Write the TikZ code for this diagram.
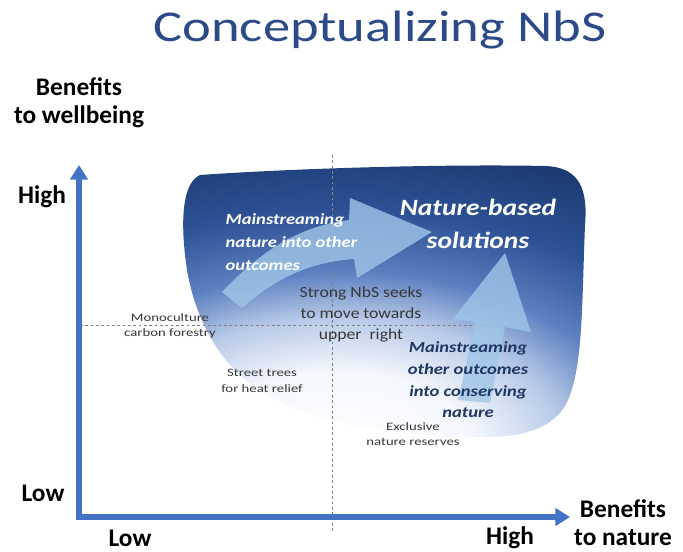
\documentclass[tikz,border=0pt]{standalone}
\usepackage{fontspec}
\setmainfont{Carlito}
\usepackage{tikz}
\usetikzlibrary{arrows.meta}

\definecolor{titleblue}{RGB}{43,74,135}
\definecolor{axisblue}{RGB}{68,114,196}
\definecolor{blobdark}{RGB}{26,55,108}
\definecolor{blobdeep}{RGB}{45,82,150}
\definecolor{blobmid}{RGB}{92,128,192}
\definecolor{bloblight}{RGB}{184,202,232}
\definecolor{blobpale}{RGB}{244,247,252}
\definecolor{arrowlight}{RGB}{160,198,232}
\definecolor{navytext}{RGB}{31,56,100}
\definecolor{labelgray}{RGB}{55,55,55}

% white in the middle, dark at the rim (rim = 25bp)
\pgfdeclareradialshading{blobshade}{\pgfpoint{0bp}{0bp}}{%
  color(0bp)=(white); color(6bp)=(blobpale); color(10bp)=(bloblight);
  color(13.5bp)=(blobmid); color(18bp)=(blobdeep); color(24bp)=(blobdark);
  color(50bp)=(blobdark)}

\begin{document}
\begin{tikzpicture}[x=0.75pt,y=-0.75pt,
    axislabel/.style={font=\fontsize{19}{21}\selectfont\bfseries,align=center},
    smalllabel/.style={font=\fontsize{8.5}{11.5}\selectfont,text=labelgray,align=center,xscale=1.3},
    guide/.style={very thin,color=gray,dash pattern=on 2pt off 2pt}]
            \useasboundingbox (0,0) rectangle (683,552);

            % title
            \node[text=titleblue,font=\fontsize{33}{40}\selectfont,xscale=1.24,anchor=base] (title) at (380,42) {Conceptualizing NbS};

            % the shaded region
            \begin{scope}
            \clip
                (200,175) .. controls (300,168) and (450,164) .. (545,166)
                .. controls (580,167) and (588,190) .. (585,225)
                .. controls (582,300) and (583,360) .. (570,395)
                .. controls (560,425) and (530,436) .. (490,437)
                .. controls (420,439) and (330,428) .. (268,396)
                .. controls (222,370) and (196,322) .. (187,270)
                .. controls (181,230) and (180,184) .. (200,175) -- cycle;
            \shade[shading=blobshade] (340,450) ellipse [x radius=560, y radius=330];
            \end{scope}

            % guide lines
            \coordinate (vtop) at (332,155);
            \coordinate (vbot) at (332,532);
            \coordinate (hleft) at (80,325);
            \coordinate (hright) at (530,325);
            \draw[guide] (vtop) -- (vbot);
            \draw[guide] (hleft) -- (hright);

            % light arrows
            \fill[arrowlight,opacity=0.8]
                (222,292) .. controls (262,250) and (300,226) .. (349,220)
                -- (350,198) -- (432,232) -- (357,278) -- (354,259)
                .. controls (310,262) and (276,278) .. (242,308) -- cycle;
            \fill[arrowlight,opacity=0.8]
                (458,400) .. controls (464,375) and (470,345) .. (475,322)
                -- (453,319) -- (505,253) -- (531,332) -- (505,327)
                .. controls (500,352) and (495,378) .. (490,403) -- cycle;

            % axes
            \coordinate (origin) at (79,517);
            \coordinate (ytip) at (79,165);
            \coordinate (xtip) at (570,517);
            \draw[line width=4.5pt,color=axisblue,-{Triangle[width=13pt,length=11pt]}] ([yshift=-2.25pt]origin) -- (ytip);
            \draw[line width=4.5pt,color=axisblue,-{Triangle[width=13pt,length=11pt]}] ([xshift=-2.25pt]origin) -- (xtip);

            % axis labels
            \node[axislabel] (ylabel) at (79,103) {Benefits\\to wellbeing};
            \node[axislabel] (xlabel) at (623,523) {Benefits\\to nature};
            \node[axislabel] (yhigh) at (42,197) {High};
            \node[axislabel] (ylow) at (43,493) {Low};
            \node[axislabel] (xlow) at (130,538) {Low};
            \node[axislabel] (xhigh) at (510,538) {High};

            % texts in the region
            \node[text=white,font=\fontsize{11.6}{17.5}\selectfont\bfseries\itshape,align=left,anchor=west,xscale=1.2] (mainnature) at (220,242) {Mainstreaming\\nature into other\\outcomes};
            \node[text=white,font=\fontsize{17.5}{25}\selectfont\bfseries\itshape,align=center,xscale=1.18] (nbs) at (478,224) {Nature-based\\solutions};
            \node[text=labelgray,font=\fontsize{11.6}{15.75}\selectfont,align=center,xscale=1.14] (strong) at (361,314) {Strong NbS seeks\\to move towards\\upper\ \ right};
            \node[text=navytext,font=\fontsize{11.6}{16.3}\selectfont\bfseries\itshape,align=center,xscale=1.2] (mainother) at (468,380) {Mainstreaming\\other outcomes\\into conserving\\nature};

            % examples
            \node[smalllabel] (mono) at (170,326) {Monoculture\\carbon forestry};
            \node[smalllabel] (street) at (262,381) {Street trees\\for heat relief};
            \node[smalllabel] (reserves) at (413,434) {Exclusive\\nature reserves};
        \end{tikzpicture}
\end{document}
